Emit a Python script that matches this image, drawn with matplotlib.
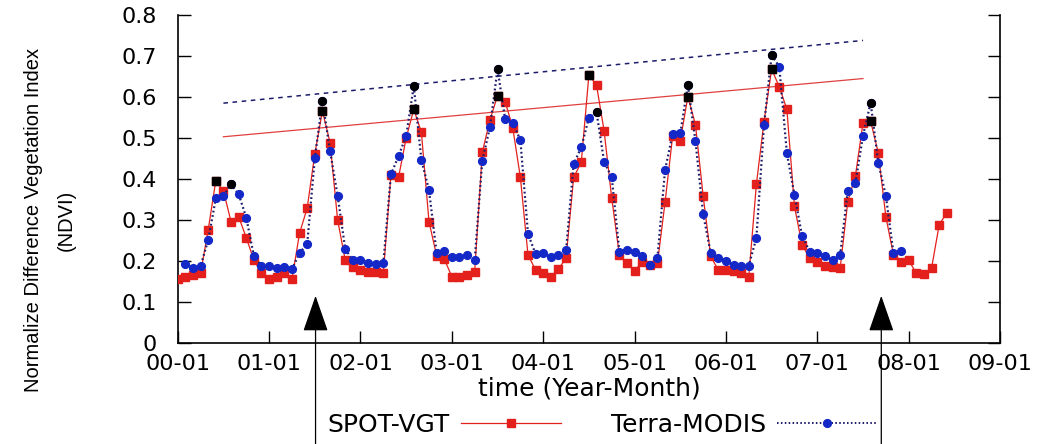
import matplotlib
matplotlib.use("Agg")
import matplotlib.pyplot as plt
import numpy as np
from matplotlib.lines import Line2D
from matplotlib.transforms import blended_transform_factory

# monthly NDVI, month index 0 = 2000-01
spot_start = 0
spot_vgt = [
    0.155, 0.162, 0.166, 0.170, 0.276, 0.396, 0.371, 0.296, 0.308, 0.257, 0.202, 0.170,
    0.155, 0.162, 0.171, 0.155, 0.268, 0.329, 0.461, 0.566, 0.489, 0.300, 0.202, 0.186,
    0.178, 0.174, 0.174, 0.170, 0.410, 0.404, 0.500, 0.570, 0.514, 0.296, 0.213, 0.205,
    0.162, 0.162, 0.166, 0.174, 0.465, 0.544, 0.603, 0.589, 0.525, 0.404, 0.215, 0.178,
    0.170, 0.162, 0.180, 0.207, 0.404, 0.441, 0.654, 0.629, 0.517, 0.353, 0.215, 0.194,
    0.176, 0.198, 0.190, 0.194, 0.343, 0.505, 0.493, 0.601, 0.532, 0.359, 0.211, 0.178,
    0.178, 0.176, 0.170, 0.162, 0.388, 0.540, 0.668, 0.625, 0.570, 0.333, 0.239, 0.207,
    0.198, 0.187, 0.186, 0.182, 0.345, 0.407, 0.537, 0.541, 0.464, 0.308, 0.215, 0.198,
    0.202, 0.170, 0.168, 0.182, 0.288, 0.318,
]
modis_start = 1
terra_modis = [
    0.192, 0.184, 0.188, 0.251, 0.353, 0.359, 0.387, 0.363, 0.306, 0.212, 0.188,
    0.188, 0.182, 0.185, 0.180, 0.220, 0.241, 0.450, 0.591, 0.469, 0.359, 0.229, 0.202,
    0.202, 0.194, 0.192, 0.194, 0.411, 0.456, 0.505, 0.627, 0.446, 0.373, 0.219, 0.224,
    0.210, 0.209, 0.215, 0.202, 0.445, 0.526, 0.668, 0.546, 0.537, 0.495, 0.266, 0.217,
    0.219, 0.209, 0.215, 0.226, 0.437, 0.477, 0.550, 0.563, 0.442, 0.404, 0.223, 0.228,
    0.223, 0.211, 0.190, 0.207, 0.422, 0.510, 0.511, 0.629, 0.492, 0.315, 0.219, 0.207,
    0.201, 0.190, 0.189, 0.189, 0.257, 0.532, 0.702, 0.674, 0.463, 0.361, 0.261, 0.223,
    0.219, 0.211, 0.202, 0.215, 0.371, 0.390, 0.506, 0.586, 0.440, 0.359, 0.219, 0.224,
]
tick_labels = ["00-01", "01-01", "02-01", "03-01", "04-01",
               "05-01", "06-01", "07-01", "08-01", "09-01"]
n_years_marked = 8

# trend lines through the yearly peaks (end values)
trend_months = [6, 90]
spot_trend = [0.503, 0.645]
modis_trend = [0.585, 0.738]

arrow_months = [18.1, 92.4]
arrow_tip = 0.115

red = "#e3201c"
blue = "#1428c8"
navy = "#1c1c6a"

plt.rcParams["font.family"] = ["DejaVu Sans"]

fig = plt.figure(figsize=(10.4, 4.44), dpi=100)
ax = fig.add_axes([0.1709, 0.2275, 0.7907, 0.7387])

spot = np.array(spot_vgt)
modis = np.array(terra_modis)
xs = np.arange(len(spot)) + spot_start
xm = np.arange(len(modis)) + modis_start

ax.plot(xs, spot, color=red, lw=0.9, marker="s", ms=5.2, mec=red, mfc=red, zorder=3)
ax.plot(xm, modis, color=navy, lw=1.6, ls=(0, (0.8, 1.2)), marker="o", ms=5.6,
        mec=blue, mfc=blue, zorder=4)

# yearly maxima in black
for yr in range(n_years_marked):
    sel = (xs >= 12 * yr) & (xs < 12 * yr + 12)
    i = np.argmax(np.where(sel, spot, -1))
    ax.plot(xs[i], spot[i], "s", color="black", ms=5.2, zorder=5)
    sel = (xm >= 12 * yr) & (xm < 12 * yr + 12)
    i = np.argmax(np.where(sel, modis, -1))
    ax.plot(xm[i], modis[i], "o", color="black", ms=5.6, zorder=5)

ax.plot(trend_months, spot_trend, color="#e04040", lw=0.9, zorder=2)
ax.plot(trend_months, modis_trend, color=navy, lw=1.1, ls=(0, (3, 3)), zorder=2)

ax.set_xlim(0, 108)
ax.set_ylim(0, 0.8)
ax.set_xticks(np.arange(0, 109, 12))
ax.set_xticklabels(tick_labels)
ax.set_yticks(np.arange(0, 0.81, 0.1))
ax.set_yticklabels(["0"] + ["%.1f" % v for v in np.arange(0.1, 0.81, 0.1)])
ax.tick_params(axis="both", direction="in", length=9, width=1, labelsize=16)
ax.tick_params(axis="y", right=True, pad=15)
ax.tick_params(axis="x", pad=8)
ax.spines["top"].set_visible(False)
for s in ["left", "right", "bottom"]:
    ax.spines[s].set_linewidth(1.2)

ax.set_xlabel("time (Year-Month)", fontsize=18, labelpad=2)
fig.text(50 / 1040, 1 - 220 / 444, "Normalize Difference Vegetation Index\n(NDVI)",
         rotation=90, ha="center", va="center", multialignment="center",
         linespacing=1.9, fontsize=14.5, family=["Liberation Sans", "DejaVu Sans"])

handles = [
    Line2D([], [], color=red, lw=0.9, marker="s", ms=5.2, mfc=red, mec=red),
    Line2D([], [], color=navy, lw=1.4, ls=(0, (0.8, 1.2)), marker="o", ms=5.6,
           mfc=blue, mec=blue),
]
fig.legend(handles, ["SPOT-VGT", "Terra-MODIS"], loc="center", ncol=2,
           bbox_to_anchor=(602 / 1040, 1 - 425 / 444), frameon=False,
           markerfirst=False, numpoints=1, handlelength=4.0, handletextpad=0.45,
           columnspacing=2.0, fontsize=18)

trans = blended_transform_factory(ax.transData, fig.transFigure)
for m in arrow_months:
    ax.annotate("", xy=(m, arrow_tip), xycoords="data", xytext=(m, 0), textcoords=trans,
                annotation_clip=False, zorder=6,
                arrowprops=dict(arrowstyle="-|>,head_length=23,head_width=8",
                                mutation_scale=1, color="black", lw=0.9,
                                shrinkA=0, shrinkB=0))

fig.savefig("out.png", dpi=100)
